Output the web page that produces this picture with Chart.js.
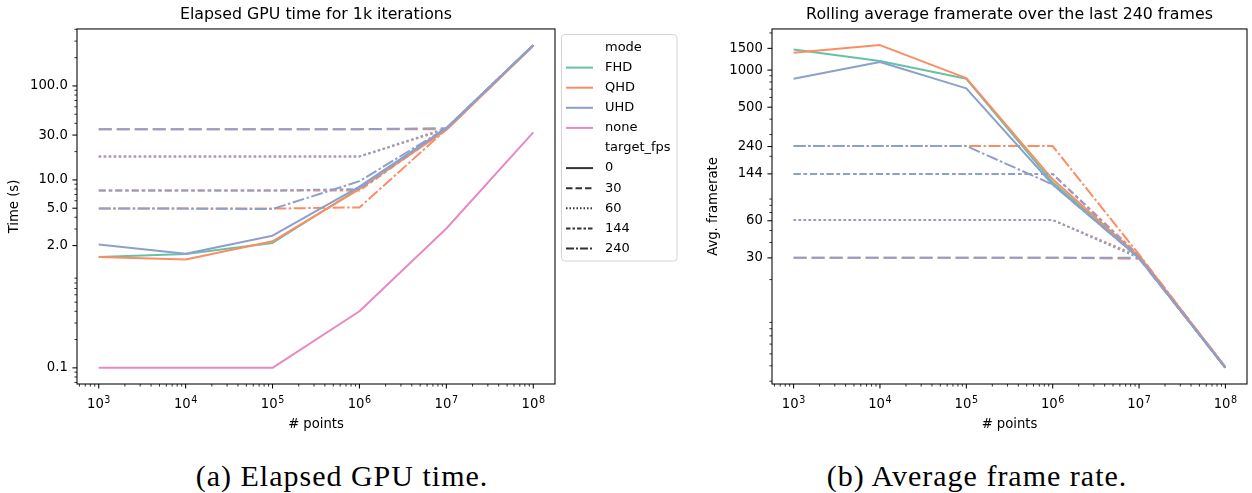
<!DOCTYPE html>
<html lang="en">
<head>
  <meta charset="UTF-8">
  <title>GPU time and framerate</title>
  <script src="https://cdn.jsdelivr.net/npm/chart.js"></script>
  <style>
    * { margin: 0; padding: 0; box-sizing: border-box; }
    body { background: #fff; width: 1252px; height: 493px; overflow: hidden; position: relative; }
    .wrap { position: absolute; top: 0; height: 440px; }
    #timeWrap { left: 0; width: 690px; }
    #fpsWrap { left: 690px; width: 562px; }
    .caption { position: absolute; top: 461px; width: 400px; text-align: center; font-family: "Liberation Serif", serif; font-size: 30px; line-height: 30px; letter-spacing: 1px; color: #000; }
  </style>
</head>
<body>
  <div class="wrap" id="timeWrap"><canvas id="timeChart" width="690" height="440"></canvas></div>
  <div class="wrap" id="fpsWrap"><canvas id="fpsChart" width="562" height="440"></canvas></div>
  <div class="caption" style="left:142px">(a) Elapsed GPU time.</div>
  <div class="caption" style="left:777px">(b) Average frame rate.</div>

  <script>
    // x values: number of points
    const POINTS = [1e3, 1e4, 1e5, 1e6, 1e7, 1e8];
    const X_TICK_EXPONENTS = ['3', '4', '5', '6', '7', '8'];
    const MODES = ['FHD', 'QHD', 'UHD', 'none'];
    const TARGET_FPS = ['0', '30', '60', '144', '240'];

    // elapsed GPU time (s) for 1k iterations
    const timeFHD0 = [1.51, 1.63, 2.13, 8.2, 34.5, 270];
    const timeQHD0 = [1.51, 1.42, 2.22, 8.0, 34.0, 268];
    const timeQHD30 = [34.7, 34.7, 34.7, 34.7, 34.7, 270];
    const timeQHD60 = [17.7, 17.7, 17.7, 17.7, 34.5, 270];
    const timeQHD144 = [7.7, 7.7, 7.7, 7.7, 35.0, 270];
    const timeQHD240 = [4.95, 4.95, 4.95, 5.1, 34.5, 270];
    const timeUHD0 = [2.05, 1.64, 2.55, 8.5, 35.5, 272];
    const timeUHD30 = [34.7, 34.7, 34.7, 34.7, 35.5, 272];
    const timeUHD60 = [17.7, 17.7, 17.7, 17.8, 35.5, 272];
    const timeUHD144 = [7.7, 7.7, 7.7, 8.0, 35.5, 272];
    const timeUHD240 = [4.95, 4.95, 4.9, 9.7, 35.5, 272];
    const timeNone0 = [0.1, 0.1, 0.1, 0.40, 3.04, 32];
    const TIME_TICKS = [0.1, 2, 5, 10, 30, 100];
    const TIME_TICK_LABELS = ['0.1', '2.0', '5.0', '10.0', '30.0', '100.0'];

    // rolling average framerate over the last 240 frames
    const fpsFHD0 = [1470, 1183, 850, 123, 30.5, 3.87];
    const fpsQHD0 = [1381, 1594, 861, 130, 31, 3.9];
    const fpsQHD30 = [30.1, 30.1, 30.1, 30.1, 29.5, 3.9];
    const fpsQHD60 = [60.8, 60.8, 60.8, 60.8, 31, 3.9];
    const fpsQHD144 = [143.6, 143.6, 143.6, 143.6, 31.5, 3.9];
    const fpsQHD240 = [242, 242, 242, 242, 32, 3.9];
    const fpsUHD0 = [850, 1161, 711, 118, 30, 3.85];
    const fpsUHD30 = [30.1, 30.1, 30.1, 30.1, 30, 3.85];
    const fpsUHD60 = [60.8, 60.8, 60.8, 60.8, 30, 3.85];
    const fpsUHD144 = [143.6, 143.6, 143.6, 143.6, 30.5, 3.85];
    const fpsUHD240 = [242, 242, 242, 118, 30, 3.85];
    const FPS_TICKS = [30, 60, 144, 240, 500, 1000, 1500];
    const FPS_TICK_LABELS = ['30', '60', '144', '240', '500', '1000', '1500'];

    const COLORS = { FHD: '#66c2a5', QHD: '#fc8d62', UHD: '#8da0cb', none: '#e78ac3' };
    const DASHES = { '0': [], '30': [13, 5], '60': [2.5, 2.5], '144': [7, 3, 3.5, 3], '240': [12, 2.5, 2.5, 2.5] };
    const LEGEND_DASHES = { '0': [], '30': [6.5, 3], '60': [1.5, 2], '144': [4.5, 2, 2.5, 2], '240': [8, 2, 2, 2] };

    // seaborn draw order: hue first, then style
    const timeSeries = [
      ['FHD', '0', timeFHD0],
      ['QHD', '0', timeQHD0], ['QHD', '30', timeQHD30], ['QHD', '60', timeQHD60], ['QHD', '144', timeQHD144], ['QHD', '240', timeQHD240],
      ['UHD', '0', timeUHD0], ['UHD', '30', timeUHD30], ['UHD', '60', timeUHD60], ['UHD', '144', timeUHD144], ['UHD', '240', timeUHD240],
      ['none', '0', timeNone0]
    ];
    const fpsSeries = [
      ['FHD', '0', fpsFHD0],
      ['QHD', '0', fpsQHD0], ['QHD', '30', fpsQHD30], ['QHD', '60', fpsQHD60], ['QHD', '144', fpsQHD144], ['QHD', '240', fpsQHD240],
      ['UHD', '0', fpsUHD0], ['UHD', '30', fpsUHD30], ['UHD', '60', fpsUHD60], ['UHD', '144', fpsUHD144], ['UHD', '240', fpsUHD240]
    ];

    Chart.defaults.font.family = '"DejaVu Sans", sans-serif';
    Chart.defaults.color = '#000';

    // matplotlib-like 5% margin on a log axis
    function logLimits(values) {
      const lo = Math.log10(Math.min(...values));
      const hi = Math.log10(Math.max(...values));
      const m = (hi - lo) * 0.05;
      return [Math.pow(10, lo - m), Math.pow(10, hi + m)];
    }

    function logMinors(min, max, majors) {
      const out = [];
      for (let d = Math.floor(Math.log10(min)); d <= Math.ceil(Math.log10(max)); d++) {
        for (let k = 2; k <= 9; k++) {
          const v = k * Math.pow(10, d);
          if (v < min || v > max) continue;
          if (majors.some(t => Math.abs(t - v) / v < 1e-6)) continue;
          out.push(v);
        }
      }
      return out;
    }

    function toDatasets(series) {
      return series.map(([mode, fps, vals]) => ({
        label: mode + ' ' + fps,
        data: POINTS.map((x, i) => ({ x, y: vals[i] })),
        borderColor: COLORS[mode],
        borderWidth: 2,
        borderDash: DASHES[fps],
        borderJoinStyle: 'round',
        pointRadius: 0,
        tension: 0,
        fill: false
      })).reverse(); // first dataset is painted last in Chart.js
    }

    // frame, major/minor ticks and 10^n labels like matplotlib
    const mplAxes = {
      id: 'mplAxes',
      afterDraw(chart) {
        const { ctx, chartArea: a, scales } = chart;
        const xMaj = POINTS;
        const yMaj = chart.options.scales.y.majorTicks;
        ctx.save();
        ctx.strokeStyle = '#000';
        ctx.lineWidth = 1.05;
        ctx.strokeRect(a.left, a.top, a.right - a.left, a.bottom - a.top);
        const tick = (x1, y1, x2, y2, w) => {
          ctx.lineWidth = w;
          ctx.beginPath(); ctx.moveTo(x1, y1); ctx.lineTo(x2, y2); ctx.stroke();
        };
        xMaj.forEach(v => { const p = scales.x.getPixelForValue(v); tick(p, a.bottom, p, a.bottom + 4.6, 1.05); });
        logMinors(scales.x.min, scales.x.max, xMaj).forEach(v => {
          const p = scales.x.getPixelForValue(v); tick(p, a.bottom, p, a.bottom + 2.6, 0.8);
        });
        yMaj.forEach(v => { const p = scales.y.getPixelForValue(v); tick(a.left, p, a.left - 4.6, p, 1.05); });
        logMinors(scales.y.min, scales.y.max, yMaj).forEach(v => {
          const p = scales.y.getPixelForValue(v); tick(a.left, p, a.left - 2.6, p, 0.8);
        });
        // x tick labels: base 10 with a raised exponent
        ctx.fillStyle = '#000';
        ctx.textBaseline = 'alphabetic';
        ctx.textAlign = 'left';
        const baseFont = '13.2px "DejaVu Sans"', expFont = '9.6px "DejaVu Sans"';
        xMaj.forEach((v, i) => {
          const p = scales.x.getPixelForValue(v);
          ctx.font = baseFont;
          const w1 = ctx.measureText('10').width;
          ctx.font = expFont;
          const w2 = ctx.measureText(X_TICK_EXPONENTS[i]).width;
          const x0 = p - (w1 + 0.6 + w2) / 2;
          ctx.font = baseFont;
          ctx.fillText('10', x0, a.bottom + 24);
          ctx.font = expFont;
          ctx.fillText(X_TICK_EXPONENTS[i], x0 + w1 + 0.6, a.bottom + 19);
        });
        ctx.restore();
      }
    };

    const legendItems = [{ text: 'mode' }]
      .concat(MODES.map(m => ({ text: m, color: COLORS[m], dash: [] })))
      .concat([{ text: 'target_fps' }])
      .concat(TARGET_FPS.map(f => ({ text: f, color: '#333333', dash: LEGEND_DASHES[f] })));

    // legend placed outside the axes, right of the first panel
    const mplLegend = {
      id: 'mplLegend',
      afterDraw(chart) {
        const { ctx, chartArea: a } = chart;
        const x0 = a.right + 6.5, y0 = 34.5, w = 115.5, h = 226.5, r = 3.5;
        ctx.save();
        ctx.beginPath();
        ctx.moveTo(x0 + r, y0);
        ctx.arcTo(x0 + w, y0, x0 + w, y0 + h, r);
        ctx.arcTo(x0 + w, y0 + h, x0, y0 + h, r);
        ctx.arcTo(x0, y0 + h, x0, y0, r);
        ctx.arcTo(x0, y0, x0 + w, y0, r);
        ctx.closePath();
        ctx.fillStyle = 'rgba(255,255,255,0.8)';
        ctx.fill();
        ctx.strokeStyle = '#d4d4d4';
        ctx.lineWidth = 1;
        ctx.stroke();
        ctx.font = '13px "DejaVu Sans"';
        ctx.textBaseline = 'middle';
        legendItems.forEach((item, i) => {
          const y = y0 + 13 + i * 20.1;
          if (item.color) {
            ctx.strokeStyle = item.color;
            ctx.lineWidth = 2;
            ctx.setLineDash(item.dash);
            ctx.beginPath(); ctx.moveTo(x0 + 4.5, y); ctx.lineTo(x0 + 31.5, y); ctx.stroke();
            ctx.setLineDash([]);
          }
          ctx.fillStyle = '#000';
          ctx.fillText(item.text, x0 + 43.5, y);
        });
        ctx.restore();
      }
    };

    function makeChart(id, series, opts) {
      const allY = series.flatMap(s => s[2]);
      const [yMin, yMax] = logLimits(allY);
      const [xMin, xMax] = logLimits(POINTS);
      return new Chart(document.getElementById(id), {
        type: 'line',
        data: { datasets: toDatasets(series) },
        plugins: opts.plugins,
        options: {
          responsive: false,
          animation: false,
          devicePixelRatio: 1,
          layout: { padding: { left: 0, right: opts.padRight, top: 0, bottom: 0 } },
          plugins: {
            legend: { display: false },
            tooltip: { enabled: false },
            title: {
              display: true, text: opts.title, fullSize: false,
              font: { size: 15.8, weight: 'normal' }, color: '#000',
              padding: { top: 5, bottom: 5 }
            }
          },
          scales: {
            x: {
              type: 'logarithmic', min: xMin, max: xMax,
              grid: { display: false, drawTicks: false },
              border: { display: false },
              afterBuildTicks: s => { s.ticks = POINTS.map(v => ({ value: v })); },
              afterFit: s => { s.height = 56; },
              ticks: { display: false },
              title: { display: true, text: '# points', font: { size: 13.2 }, color: '#000', padding: { top: 0, bottom: 8 } }
            },
            y: {
              type: 'logarithmic', min: yMin, max: yMax,
              majorTicks: opts.yTicks,
              grid: { display: false, drawTicks: false },
              border: { display: false },
              afterBuildTicks: s => { s.ticks = opts.yTicks.map(v => ({ value: v })); },
              afterFit: s => { s.width = opts.axisWidth; },
              ticks: {
                font: { size: 13.2 }, color: '#000', padding: 9.2, autoSkip: false,
                callback: (v, i) => opts.yLabels[i]
              },
              title: { display: true, text: opts.yTitle, font: { size: 13.2 }, color: '#000', padding: { top: opts.yTitlePad, bottom: 0 } }
            }
          }
        }
      });
    }

    makeChart('timeChart', timeSeries, {
      title: 'Elapsed GPU time for 1k iterations',
      yTitle: 'Time (s)', yTitlePad: 7,
      yTicks: TIME_TICKS, yLabels: TIME_TICK_LABELS,
      axisWidth: 77, padRight: 135,
      plugins: [mplAxes, mplLegend]
    });

    makeChart('fpsChart', fpsSeries, {
      title: 'Rolling average framerate over the last 240 frames',
      yTitle: 'Avg. framerate', yTitlePad: 16,
      yTicks: FPS_TICKS, yLabels: FPS_TICK_LABELS,
      axisWidth: 82, padRight: 5,
      plugins: [mplAxes]
    });
  </script>
</body>
</html>
